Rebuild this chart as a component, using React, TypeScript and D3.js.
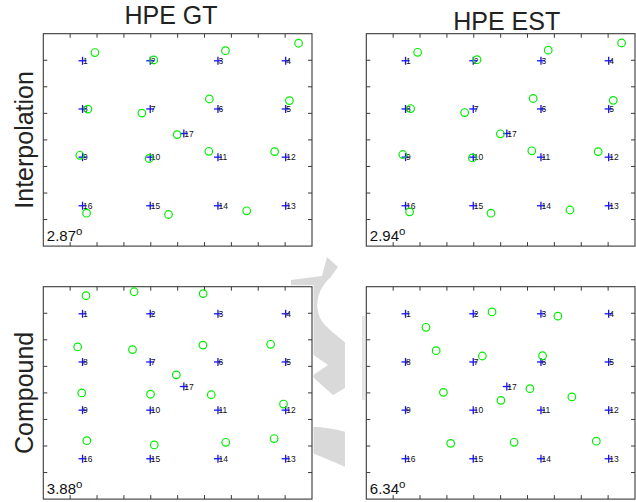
import React from 'react';
import * as d3 from 'd3';

// ---- data ----
const colTitles = ['HPE GT', 'HPE EST'];
const rowTitles = ['Interpolation', 'Compound'];
const errorLabels = ['2.87', '2.94', '3.88', '6.34'];

const crossX = [1.46, 3.98, 6.5, 9.02];
const crossY = [1.02, 2.835, 4.65, 6.48];
const crossLabels = [
  ['1', '2', '3', '4'],
  ['8', '7', '6', '5'],
  ['9', '10', '11', '12'],
  ['16', '15', '14', '13'],
];
const centerX = [5.23];
const centerY = [3.76];
const centerLabel = ['17'];

const gtInterpX = [1.92, 4.11, 6.78, 9.5, 1.66, 3.67, 6.18, 9.16, 4.98, 1.36, 3.94, 6.16, 8.61, 1.61, 4.66, 7.57];
const gtInterpY = [0.71, 0.99, 0.64, 0.36, 2.84, 2.99, 2.46, 2.52, 3.8, 4.58, 4.7, 4.43, 4.44, 6.76, 6.81, 6.67];

const estInterpX = [1.91, 4.12, 6.77, 9.5, 1.65, 3.66, 6.21, 9.19, 4.99, 1.36, 3.95, 6.16, 8.63, 1.61, 4.64, 7.58];
const estInterpY = [0.7, 0.98, 0.62, 0.35, 2.82, 2.97, 2.44, 2.51, 3.77, 4.55, 4.68, 4.41, 4.44, 6.71, 6.76, 6.64];

const gtCompX = [1.59, 3.38, 5.95, 1.28, 3.32, 5.94, 8.46, 4.95, 1.43, 3.99, 6.25, 8.94, 1.62, 4.13, 6.79, 8.59];
const gtCompY = [0.34, 0.19, 0.26, 2.27, 2.37, 2.2, 2.17, 3.32, 4.0, 4.05, 4.07, 4.42, 5.8, 5.96, 5.86, 5.72];

const estCompX = [4.68, 7.13, 2.22, 2.6, 4.32, 6.56, 6.09, 2.87, 7.65, 5.01, 3.14, 5.5, 8.56];
const estCompY = [0.95, 1.11, 1.53, 2.41, 2.61, 2.6, 3.84, 3.98, 4.15, 4.28, 5.9, 5.86, 5.82];

const xDomain = [0, 10];
const yDomain = [0, 8];

const FONT = '"Liberation Sans", Arial, Helvetica, sans-serif';

type PanelProps = {
  left: number; top: number; width: number; height: number;
  px: number[]; py: number[]; err: string;
};

function Panel({ left, top, width, height, px, py, err }: PanelProps) {
  const x = d3.scaleLinear().domain(xDomain).range([left, left + width]);
  const y = d3.scaleLinear().domain(yDomain).range([top, top + height]);
  const xt = x.ticks(10).filter((t) => t > xDomain[0] && t < xDomain[1]);
  const yt = y.ticks(8).filter((t) => t > yDomain[0] && t < yDomain[1]);
  const tl = 4;
  const axisCol = '#3a3a3a';
  const crossCol = '#1414ff';
  const cs = 4;
  const crosses: { x: number; y: number; l: string }[] = [];
  crossY.forEach((cy, r) => crossX.forEach((cx, c) => crosses.push({ x: cx, y: cy, l: crossLabels[r][c] })));
  centerX.forEach((cx, i) => crosses.push({ x: cx, y: centerY[i], l: centerLabel[i] }));
  return (
    <g>
      <rect x={left - 1.5} y={top - 1.5} width={width + 3} height={height + 3} fill="#fff" />
      {xt.map((t) => (
        <g key={'x' + t}>
          <line x1={x(t)} x2={x(t)} y1={top + height} y2={top + height - tl} stroke={axisCol} strokeWidth={1} />
          <line x1={x(t)} x2={x(t)} y1={top} y2={top + tl} stroke={axisCol} strokeWidth={1} />
        </g>
      ))}
      {yt.map((t) => (
        <g key={'y' + t}>
          <line x1={left} x2={left + tl} y1={y(t)} y2={y(t)} stroke={axisCol} strokeWidth={1} />
          <line x1={left + width} x2={left + width - tl} y1={y(t)} y2={y(t)} stroke={axisCol} strokeWidth={1} />
        </g>
      ))}
      <rect x={left} y={top} width={width} height={height} fill="none" stroke={axisCol} strokeWidth={1.1} />
      {crosses.map((c, i) => (
        <g key={'c' + i}>
          <line x1={x(c.x) - cs} x2={x(c.x) + cs} y1={y(c.y)} y2={y(c.y)} stroke={crossCol} strokeWidth={1.3} />
          <line x1={x(c.x)} x2={x(c.x)} y1={y(c.y) - cs} y2={y(c.y) + cs} stroke={crossCol} strokeWidth={1.3} />
          <text x={x(c.x) + 0.5} y={y(c.y)} dy="0.36em" fontSize={8.5} fontFamily={FONT} fill="#111">{c.l}</text>
        </g>
      ))}
      {px.map((v, i) => (
        <circle key={'p' + i} cx={x(v)} cy={y(py[i])} r={3.8} fill="none" stroke="#00ee00" strokeWidth={1.2} />
      ))}
      <text x={left + 3.5} y={top + height - 4.8} fontSize={15} fontFamily={FONT} fill="#111">
        {err}
        <tspan fontSize={11.5} dy={-6.5}>o</tspan>
      </text>
    </g>
  );
}

export default function App() {
  const W = 636, H = 502;
  const lefts = [43.3, 366.3];
  const tops = [33.7, 286.7];
  const pw = 268.7, ph = 212.4;
  const data = [
    [gtInterpX, gtInterpY],
    [estInterpX, estInterpY],
    [gtCompX, gtCompY],
    [estCompX, estCompY],
  ];
  const wm = '#d9d9d9';
  return (
    <svg width={W} height={H} style={{ position: 'absolute', left: 0, top: 0, background: '#fff' }}>
      <rect width={W} height={H} fill="#fff" />
      {/* faint watermark behind the panels */}
      <path
        d="M291,280 L322,276 L327,257 L338,267 L330,278 C316,290 312,312 326,326 C334,334 345,342 345,342 L345,388 L333,395 L316,380 L312,376 L328,365 L312,354 L300,348 L291,288 Z"
        fill={wm}
      />
      <path d="M305,426 L313,426.7 Q330,427.5 345,431.7 L345,466.7 L313,453.3 L305,452 Z" fill={wm} />
      <rect x={362} y={316} width={4} height={84} fill="#e6e6e6" />
      {data.map((d, i) => (
        <Panel
          key={i}
          left={lefts[i % 2]}
          top={tops[Math.floor(i / 2)]}
          width={pw}
          height={ph}
          px={d[0]}
          py={d[1]}
          err={errorLabels[i]}
        />
      ))}
      <text x={171} y={24} textAnchor="middle" fontSize={25} fontFamily={FONT} fill="#222">{colTitles[0]}</text>
      <text x={506.7} y={30} textAnchor="middle" fontSize={25} fontFamily={FONT} fill="#222">{colTitles[1]}</text>
      {rowTitles.map((t, i) => (
        <text
          key={t}
          transform={`translate(33,${tops[i] + ph / 2}) rotate(-90)`}
          textAnchor="middle"
          fontSize={25}
          fontFamily={FONT}
          fill="#222"
        >
          {t}
        </text>
      ))}
    </svg>
  );
}
